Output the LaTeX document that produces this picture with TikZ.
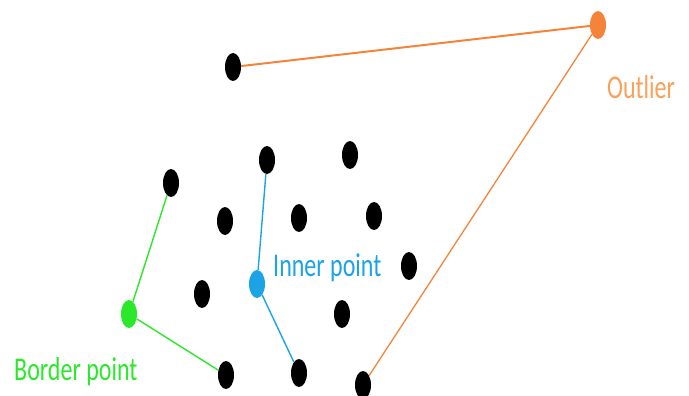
\documentclass[tikz,border=0pt]{standalone}
\usepackage{fontspec}
\setmainfont{Carlito}
\usetikzlibrary{shapes.geometric}
\definecolor{orng}{HTML}{F5843A}
\definecolor{orngtxt}{HTML}{F9A05A}
\definecolor{blu}{HTML}{1BA3E6}
\definecolor{grn}{HTML}{2BE82B}
\tikzset{
  pt/.style={ellipse, fill=black, minimum width=16pt, minimum height=28pt, inner sep=0pt},
  lbl/.style={anchor=base west, inner sep=0pt, font=\fontsize{24}{28}\selectfont},
}
\newcommand{\tall}[1]{\scalebox{1}[1.38]{#1}}
\begin{document}
\begin{tikzpicture}[x=1pt,y=-1pt]
\useasboundingbox (0,0) rectangle (689,396);
\node[pt] (a) at (233,67) {};
\node[pt, fill=orng] (out) at (598,25) {};
\node[pt] (b) at (267,160) {};
\node[pt] (c) at (350,155) {};
\node[pt] (d) at (171,183) {};
\node[pt] (e) at (225,221) {};
\node[pt] (f) at (299,218) {};
\node[pt] (g) at (374,216) {};
\node[pt] (h) at (409,266) {};
\node[pt, fill=blu] (inner) at (257,284) {};
\node[pt] (i) at (202,294) {};
\node[pt, fill=grn] (border) at (129,314) {};
\node[pt] (j) at (342,314) {};
\node[pt] (k) at (226,375) {};
\node[pt] (l) at (299,373) {};
\node[pt] (m) at (363,385) {};
\draw[orng, line width=2pt] (a) -- (out);
\draw[orng, line width=1.3pt] (out) -- (m);
\draw[blu, line width=1.4pt] (b) -- (inner);
\draw[blu, line width=1.4pt] (inner) -- (l);
\draw[grn, line width=1.4pt] (d) -- (border);
\draw[grn, line width=1.4pt] (border) -- (k);
\node[lbl, text=orngtxt] (tout) at (607,99) {\tall{Outlier}};
\node[lbl, text=blu] (tin) at (273,276) {\tall{Inner point}};
\node[lbl, text=grn] (tbo) at (14,380) {\tall{Border point}};
\end{tikzpicture}
\end{document}
